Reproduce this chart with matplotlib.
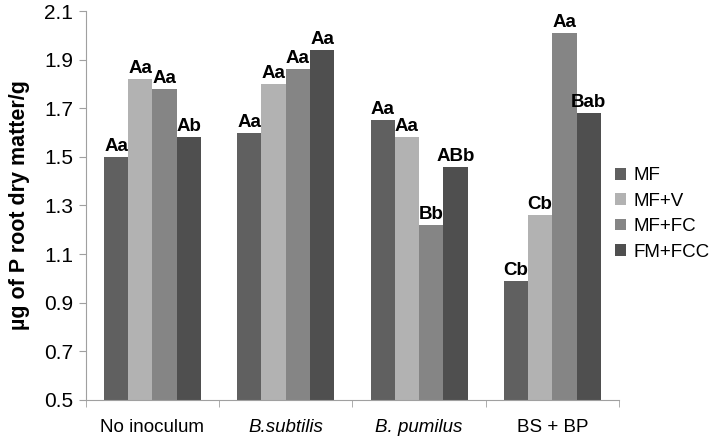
import numpy as np
import matplotlib.pyplot as plt

plt.rcParams['font.family'] = ['Liberation Sans', 'DejaVu Sans']

groups = ["No inoculum", "B.subtilis", "B. pumilus", "BS + BP"]
italic = [False, True, True, False]
series = ["MF", "MF+V", "MF+FC", "FM+FCC"]
values = [
    [1.50, 1.60, 1.65, 0.99],
    [1.82, 1.80, 1.58, 1.26],
    [1.78, 1.86, 1.22, 2.01],
    [1.58, 1.94, 1.46, 1.68],
]
letters = [
    ["Aa", "Aa", "Aa", "Cb"],
    ["Aa", "Aa", "Aa", "Cb"],
    ["Aa", "Aa", "Bb", "Aa"],
    ["Ab", "Aa", "ABb", "Bab"],
]
colors = ["#606060", "#b2b2b2", "#858585", "#4f4f4f"]

fig = plt.figure(figsize=(7.09, 4.4), dpi=100)
ax = fig.add_axes([0.121, 0.091, 0.752, 0.884])

x = np.arange(len(groups))
w = 0.182
for i in range(4):
    pos = x + (i - 1.5) * w
    ax.bar(pos, np.array(values[i]) - 0.5, w, bottom=0.5, color=colors[i], label=series[i])
    for j in range(4):
        ax.text(pos[j], values[i][j] + 0.008, letters[i][j], ha='center', va='bottom',
                fontsize=13.5, fontweight='bold')

ax.set_xlim(-0.5, 3.5)
ax.set_ylim(0.5, 2.1)
ticks = np.arange(0.5, 2.11, 0.2)
ax.set_yticks(ticks)
ax.set_yticklabels(["%.1f" % v for v in ticks], fontsize=15)
ax.set_xticks(x)
ax.set_xticklabels(groups, fontsize=13.5)
for lab, it in zip(ax.get_xticklabels(), italic):
    if it:
        lab.set_style('italic')
ax.tick_params(axis='x', length=0, pad=14)
ax.set_xticks(np.arange(-0.5, 3.6, 1), minor=True)
ax.tick_params(axis='x', which='minor', length=5, color='#a0a0a0')
ax.tick_params(axis='y', length=5, color='#a0a0a0', pad=4)

for s in ['top', 'right']:
    ax.spines[s].set_visible(False)
for s in ['left', 'bottom']:
    ax.spines[s].set_color('#a0a0a0')

ax.set_ylabel("µg of P root dry matter/g", fontsize=15.5, fontweight='bold', labelpad=10)

ax.legend(loc='upper left', bbox_to_anchor=(0.867, 0.62), bbox_transform=fig.transFigure,
          frameon=False, fontsize=13.5, borderpad=0, borderaxespad=0,
          handlelength=0.6, handleheight=0.6, handletextpad=0.4, labelspacing=0.45)

fig.savefig("out.png", dpi=100)
